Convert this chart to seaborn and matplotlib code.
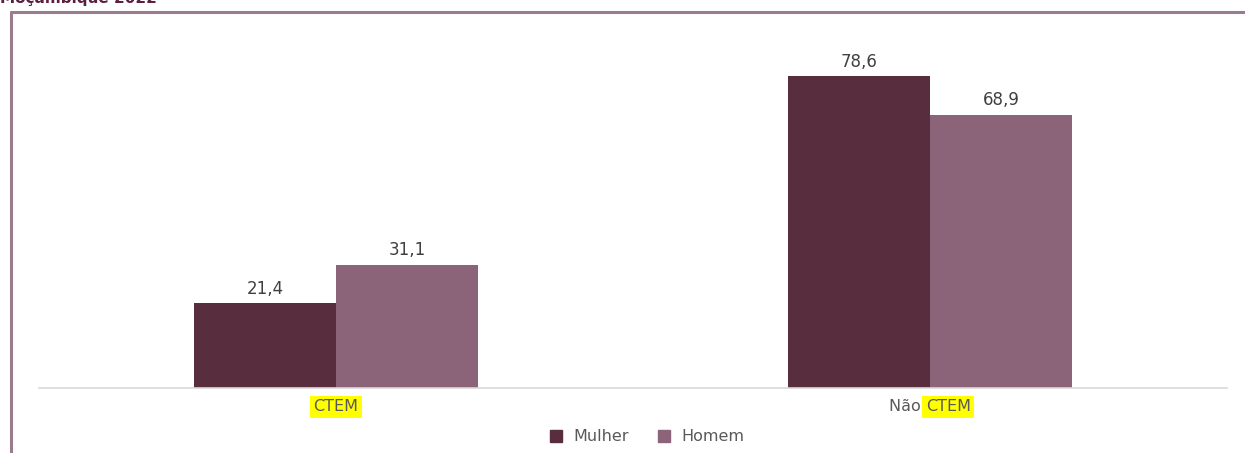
import pandas as pd
import seaborn as sns
import matplotlib.pyplot as plt
from matplotlib.lines import Line2D
from matplotlib.transforms import ScaledTranslation

categorias = ['CTEM', 'Não CTEM']
mulher = [21.4, 78.6]
homem = [31.1, 68.9]
sexos = ['Mulher', 'Homem']
cores = ['#582d3e', '#8c6479']

df = pd.DataFrame({
    'categoria': categorias * 2,
    'sexo': ['Mulher'] * 2 + ['Homem'] * 2,
    'valor': mulher + homem,
})

sns.set_style('white')
plt.rcParams['font.family'] = ['DejaVu Sans']

fig = plt.figure(figsize=(12.45, 4.53), dpi=100)
ax = fig.add_axes([0.0313, 0.1435, 0.9542, 0.788])

sns.barplot(data=df, x='categoria', y='valor', hue='sexo', order=categorias,
            hue_order=sexos, palette=cores, width=0.478, saturation=1,
            edgecolor='none', ax=ax)

ax.set_ylim(0, 90)
ax.set_xlim(-0.5, 1.5)
ax.set_xlabel('')
ax.set_ylabel('')
ax.set_yticks([])
for s in ['top', 'right', 'left']:
    ax.spines[s].set_visible(False)
ax.spines['bottom'].set_color('#d9d9d9')
ax.spines['bottom'].set_linewidth(1.2)
ax.tick_params(axis='x', length=0)

# rotulos dos valores
for cont in ax.containers:
    ax.bar_label(cont, labels=[f'{v:.1f}'.replace('.', ',') for v in cont.datavalues],
                 padding=4, fontsize=12, color='#404040')

# rotulos das categorias com destaque amarelo em "CTEM"
ax.set_xticks([0, 1])
ax.set_xticklabels(['', ''])
hl = dict(facecolor='#ffff00', edgecolor='none', pad=2.5)
ty = -0.053
ax.text(0, ty, 'CTEM', transform=ax.get_xaxis_transform(), ha='center', va='center',
        fontsize=11.5, color='#595959', bbox=hl)
t1 = ax.text(1, ty, 'Não ', transform=ax.get_xaxis_transform(), ha='left', va='center',
             fontsize=11.5, color='#595959')
t2 = ax.annotate('CTEM', xy=(1, 0.5), xycoords=t1, ha='left', va='center',
                 fontsize=11.5, color='#595959', bbox=hl)
fig.canvas.draw()
total = t1.get_window_extent().width + t2.get_window_extent().width
t1.set_transform(ax.get_xaxis_transform()
                 + ScaledTranslation(-total / 2 / fig.dpi, 0, fig.dpi_scale_trans))

# legenda
handles = [Line2D([], [], marker='s', linestyle='none', markersize=8, color=c) for c in cores]
ax.legend(handles, sexos, loc='center', bbox_to_anchor=(0.508, -0.137), ncol=2,
          frameon=False, fontsize=11.5, handletextpad=0.1, columnspacing=1.2,
          labelcolor='#595959')

# titulo cortado e moldura
fig.text(0.0, 1 - 3 / 453, 'Moçambique 2022', ha='left', va='baseline',
         fontsize=11, fontweight='bold', color='#5a2040')
fig.add_artist(Line2D([10.5 / 1245, 10.5 / 1245], [0, 1 - 12 / 453], color='#9b7b8e',
                      linewidth=2.2, transform=fig.transFigure))
fig.add_artist(Line2D([10.5 / 1245, 1], [1 - 12 / 453, 1 - 12 / 453], color='#9b7b8e',
                      linewidth=2.2, transform=fig.transFigure))

fig.savefig('out.png', dpi=100)
